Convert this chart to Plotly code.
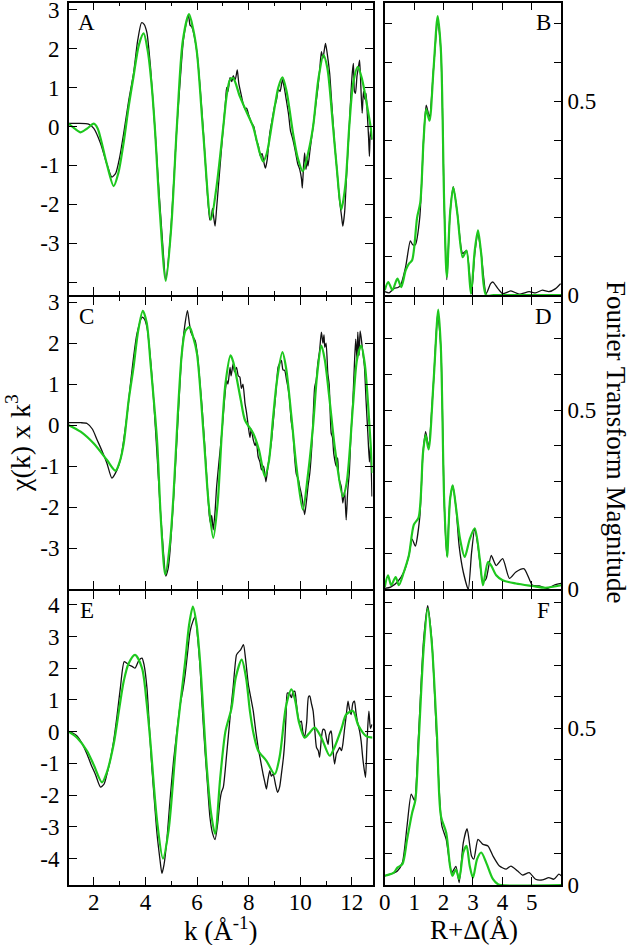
import plotly.graph_objects as go

W, H = 633, 945

# === k-space data (chi(k) * k^3), black = experiment, green = fit ===
k_a_data = [1.03, 1.4, 1.8, 2.0, 2.26, 2.5, 2.7, 2.85, 3.0, 3.16, 3.35, 3.54, 3.7, 3.85, 3.95, 4.06, 4.2, 4.38, 4.52, 4.64,
            4.79, 4.96, 5.1, 5.22, 5.35, 5.47, 5.6, 5.67, 5.73, 5.8, 5.9, 6.0, 6.12, 6.25, 6.35, 6.44, 6.5, 6.55, 6.6, 6.65,
            6.7, 6.76, 6.83, 6.92, 7.02, 7.1, 7.15, 7.2, 7.28, 7.35, 7.4, 7.48, 7.56, 7.62, 7.7, 7.78, 7.86, 7.92, 8.0, 8.05,
            8.1, 8.2, 8.3, 8.38, 8.45, 8.52, 8.6, 8.65, 8.72, 8.82, 8.92, 9.0, 9.08, 9.15, 9.22, 9.31, 9.38, 9.46, 9.55, 9.62,
            9.72, 9.8, 9.9, 9.98, 10.05, 10.08, 10.13, 10.17, 10.22, 10.27, 10.3, 10.38, 10.5, 10.6, 10.69, 10.76, 10.82, 10.88, 10.93, 10.98,
            11.05, 11.14, 11.22, 11.33, 11.42, 11.52, 11.6, 11.65, 11.72, 11.78, 11.85, 11.9, 11.97, 12.02, 12.06, 12.1, 12.14, 12.2, 12.25, 12.3,
            12.35, 12.4, 12.45, 12.5, 12.55, 12.6, 12.65, 12.68, 12.72, 12.78]
chi_a_data = [0.08, 0.08, 0.06, -0.05, -0.43, -0.95, -1.3, -1.2, -0.8, -0.17, 0.65, 1.36, 2.2, 2.66, 2.62, 2.4, 1.5, -0.17, -1.6, -2.73,
              -3.92, -2.9, -1.4, 0.0, 1.2, 2.2, 2.7, 2.85, 2.6, 2.55, 2.3, 1.88, 1.0, -0.17, -1.2, -2.05, -2.4, -2.35, -2.1, -2.35,
              -2.56, -2.1, -1.53, -0.8, 0.0, 0.6, 1.0, 0.9, 1.25, 1.15, 1.3, 1.2, 1.45, 1.1, 0.85, 0.6, 0.45, 0.47, 0.3, 0.2,
              0.1, 0.0, -0.35, -0.5, -0.75, -0.7, -0.95, -1.07, -0.85, -0.17, 0.2, 0.5, 0.68, 0.95, 0.9, 1.2, 1.0, 0.68, 0.3, -0.1,
              -0.35, -0.6, -0.95, -1.1, -1.35, -1.58, -1.0, -0.68, -1.1, -0.85, -1.02, -0.6, 0.0, 0.55, 1.02, 1.5, 1.92, 1.75, 1.95, 2.13,
              1.85, 1.36, 0.6, -0.43, -1.1, -1.88, -2.3, -2.56, -2.2, -1.45, -0.6, 0.0, 0.9, 1.4, 1.62, 0.9, 0.85, 1.3, 1.5, 1.7,
              1.0, 0.34, 0.9, 0.7, 0.85, 0.3, -0.3, -0.77, -0.1, -0.34]
k_a_fit = [1.03, 1.25, 1.49, 1.75, 2.0, 2.15, 2.3, 2.5, 2.77, 2.95, 3.16, 3.35, 3.54, 3.75, 3.93, 4.1, 4.25, 4.38, 4.55, 4.79,
           5.0, 5.22, 5.45, 5.69, 5.85, 6.0, 6.25, 6.54, 6.76, 7.02, 7.15, 7.28, 7.4, 7.66, 7.9, 8.17, 8.4, 8.56, 8.7, 8.95,
           9.15, 9.31, 9.47, 9.72, 9.9, 10.1, 10.3, 10.5, 10.7, 10.9, 11.05, 11.27, 11.42, 11.59, 11.75, 11.9, 12.05, 12.23, 12.4, 12.55,
           12.7, 12.8]
chi_a_fit = [0.07, -0.05, -0.15, -0.05, 0.07, -0.05, -0.4, -0.95, -1.53, -1.2, -0.4, 0.5, 1.28, 2.1, 2.39, 1.9, 1.0, -0.17, -2.1, -3.96,
             -2.6, 0.0, 2.2, 2.88, 2.5, 1.88, -0.25, -2.39, -1.53, 0.0, 0.8, 1.2, 1.24, 0.77, 0.4, 0.0, -0.6, -0.9, -0.7, 0.26,
             1.0, 1.26, 0.9, -0.17, -0.8, -1.15, -0.7, 0.0, 1.2, 1.83, 1.5, 0.0, -1.1, -2.13, -1.5, 0.0, 1.1, 1.53, 1.2, 0.68,
             0.1, -0.34]

k_c_data = [1.03, 1.5, 1.74, 1.95, 2.13, 2.3, 2.51, 2.7, 2.9, 3.05, 3.16, 3.3, 3.42, 3.55, 3.67, 3.87, 3.95, 4.06, 4.2, 4.32,
            4.45, 4.57, 4.7, 4.79, 4.88, 4.96, 5.1, 5.22, 5.32, 5.41, 5.52, 5.63, 5.7, 5.76, 5.85, 5.93, 6.02, 6.12, 6.2, 6.31,
            6.4, 6.48, 6.53, 6.57, 6.63, 6.7, 6.76, 6.85, 6.96, 7.05, 7.15, 7.2, 7.28, 7.32, 7.4, 7.45, 7.53, 7.6, 7.66, 7.72,
            7.78, 7.86, 7.92, 7.99, 8.05, 8.1, 8.18, 8.25, 8.3, 8.37, 8.44, 8.5, 8.58, 8.67, 8.75, 8.82, 8.89, 9.0, 9.07, 9.14,
            9.2, 9.27, 9.33, 9.4, 9.47, 9.53, 9.59, 9.65, 9.72, 9.79, 9.85, 9.92, 9.98, 10.05, 10.1, 10.17, 10.25, 10.3, 10.37, 10.45,
            10.5, 10.56, 10.62, 10.68, 10.75, 10.82, 10.88, 10.92, 10.95, 11.0, 11.07, 11.12, 11.2, 11.25, 11.3, 11.4, 11.45, 11.5, 11.59, 11.65,
            11.72, 11.78, 11.84, 11.9, 11.96, 12.04, 12.1, 12.15, 12.2, 12.23, 12.28, 12.32, 12.36, 12.42, 12.49, 12.55, 12.62, 12.68, 12.72, 12.78]
chi_c_data = [0.06, 0.06, 0.04, -0.1, -0.36, -0.6, -0.93, -1.29, -1.09, -0.8, -0.36, 0.3, 1.0, 1.7, 2.22, 2.63, 2.6, 2.39, 1.6, 0.6,
              -0.7, -1.98, -3.1, -3.68, -3.5, -3.03, -1.7, -0.36, 0.8, 1.74, 2.4, 2.79, 2.5, 2.27, 2.15, 2.06, 1.7, 1.0, 0.4, -0.6,
              -1.5, -2.22, -2.4, -2.2, -2.55, -2.1, -1.5, -0.9, -0.2, 0.5, 1.09, 1.0, 1.41, 1.2, 1.5, 1.3, 1.41, 1.2, 1.17, 0.9,
              1.0, 0.53, 0.3, -0.04, -0.3, -0.1, -0.36, -0.5, -0.4, -0.77, -0.9, -1.09, -1.0, -1.38, -1.0, -0.7, -0.36, 0.4, 0.9, 1.41,
              1.5, 1.58, 1.35, 1.33, 1.1, 0.9, 0.6, 0.1, -0.2, -0.85, -1.2, -1.3, -1.5, -1.7, -1.9, -2.18, -1.8, -1.5, -1.17, -0.5,
              0.2, 0.93, 1.1, 1.5, 1.82, 2.27, 2.0, 2.2, 1.9, 2.0, 1.25, 1.0, -0.2, -0.3, -0.7, -1.01, -0.8, -1.3, -1.5, -1.9,
              -1.6, -2.31, -1.6, -1.17, -0.3, 0.6, 1.5, 2.1, 1.6, 2.27, 1.7, 2.3, 2.14, 1.8, 1.41, 0.6, -0.2, -0.9, -0.5, -1.74]
k_c_fit = [1.03, 1.49, 2.0, 2.51, 2.84, 3.0, 3.16, 3.35, 3.54, 3.72, 3.9, 4.05, 4.2, 4.45, 4.6, 4.77, 4.95, 5.09, 5.25, 5.41,
           5.55, 5.71, 5.85, 6.0, 6.27, 6.45, 6.63, 6.8, 6.96, 7.1, 7.3, 7.4, 7.53, 7.7, 7.86, 8.18, 8.4, 8.63, 8.78, 8.95,
           9.1, 9.31, 9.45, 9.66, 9.85, 10.1, 10.3, 10.5, 10.65, 10.82, 10.95, 11.14, 11.35, 11.65, 11.8, 12.04, 12.2, 12.36, 12.5, 12.62,
           12.8]
chi_c_fit = [0.0, -0.16, -0.45, -0.85, -1.11, -0.9, -0.45, 0.6, 1.41, 2.3, 2.79, 2.5, 1.5, -0.36, -2.3, -3.64, -2.9, -1.7, 0.2, 1.74,
             2.3, 2.39, 2.15, 1.74, -0.36, -1.9, -2.75, -1.9, -0.2, 1.0, 1.7, 1.55, 1.17, 0.6, 0.12, -0.2, -0.6, -1.25, -0.9, 0.2,
             1.1, 1.78, 1.4, 0.2, -1.0, -2.06, -1.2, 0.0, 1.2, 1.94, 1.6, 0.6, -0.6, -1.74, -1.4, 0.45, 1.6, 1.94, 1.5, 0.6,
             -1.17]

k_e_data = [1.03, 1.2, 1.36, 1.55, 1.74, 1.9, 2.06, 2.26, 2.4, 2.51, 2.65, 2.77, 2.9, 3.03, 3.18, 3.35, 3.5, 3.6, 3.75, 3.87,
            3.95, 4.06, 4.15, 4.25, 4.35, 4.45, 4.56, 4.64, 4.72, 4.83, 4.95, 5.09, 5.22, 5.35, 5.45, 5.54, 5.65, 5.73, 5.85, 5.93,
            6.02, 6.12, 6.2, 6.31, 6.4, 6.5, 6.6, 6.7, 6.8, 6.89, 6.95, 7.02, 7.15, 7.28, 7.4, 7.53, 7.6, 7.69, 7.8, 7.88,
            7.99, 8.1, 8.18, 8.28, 8.37, 8.46, 8.56, 8.63, 8.69, 8.75, 8.82, 8.88, 8.95, 9.05, 9.12, 9.2, 9.27, 9.35, 9.4, 9.45,
            9.5, 9.58, 9.66, 9.72, 9.79, 9.85, 9.92, 9.98, 10.04, 10.1, 10.17, 10.25, 10.32, 10.37, 10.43, 10.5, 10.56, 10.63, 10.7, 10.75,
            10.82, 10.88, 10.95, 11.01, 11.08, 11.12, 11.2, 11.26, 11.33, 11.4, 11.46, 11.53, 11.6, 11.65, 11.72, 11.78, 11.85, 11.91, 11.97, 12.04,
            12.1, 12.16, 12.22, 12.3, 12.36, 12.42, 12.48, 12.53, 12.58, 12.62, 12.66, 12.72, 12.78]
chi_e_data = [0.0, -0.05, -0.14, -0.38, -0.71, -1.05, -1.34, -1.75, -1.65, -1.34, -0.85, -0.29, 0.5, 1.38, 2.21, 2.11, 2.05, 2.0, 2.25, 2.32,
              2.1, 1.38, 0.2, -1.13, -2.2, -3.22, -4.0, -4.47, -4.2, -3.43, -2.2, -0.92, 0.0, 0.86, 1.3, 1.8, 2.6, 3.15, 3.5, 3.62,
              3.0, 2.0, 0.8, -0.6, -1.6, -2.69, -3.2, -3.4, -2.9, -2.17, -1.9, -1.75, -0.7, 0.44, 1.4, 2.42, 2.5, 2.58, 2.74, 2.3,
              1.48, 1.0, 0.65, 0.0, -0.5, -0.9, -1.34, -1.6, -1.81, -1.5, -1.23, -1.4, -1.34, -1.7, -1.91, -1.75, -1.34, -0.8, -0.29, 0.5,
              1.22, 1.2, 1.07, 1.25, 1.27, 0.9, 0.44, 0.3, 0.33, 0.0, -0.19, 0.3, 1.1, 1.12, 0.9, 0.65, 0.1, -0.5, -0.6, -0.81,
              -0.2, 0.07, 0.05, -0.19, -0.4, -0.1, 0.02, -0.5, -1.02, -0.7, -0.6, -0.5, -0.6, -0.4, 0.1, 0.5, 0.96, 0.7, 0.54, 0.9,
              0.96, 0.6, 0.3, 0.02, -0.3, -0.81, -1.2, -1.44, -0.5, 0.2, 0.65, 0.1, 0.23]
k_e_fit = [1.03, 1.36, 1.74, 2.0, 2.32, 2.5, 2.77, 3.0, 3.16, 3.35, 3.6, 3.87, 4.05, 4.19, 4.45, 4.68, 4.9, 5.22, 5.54, 5.7,
           5.84, 5.98, 6.12, 6.38, 6.55, 6.7, 6.9, 7.1, 7.34, 7.5, 7.73, 7.9, 8.05, 8.2, 8.37, 8.69, 9.01, 9.2, 9.45, 9.66,
           9.8, 9.95, 10.17, 10.35, 10.56, 10.82, 11.14, 11.35, 11.6, 11.78, 12.04, 12.25, 12.55, 12.8]
chi_e_fit = [0.0, -0.2, -0.61, -1.05, -1.6, -1.3, -0.4, 0.8, 1.59, 2.15, 2.42, 2.0, 0.9, -0.29, -2.8, -4.0, -3.1, -0.1, 2.2, 3.4,
             3.94, 3.4, 2.2, -1.13, -2.6, -3.22, -1.45, 0.0, 0.75, 1.7, 2.27, 1.7, 0.65, -0.1, -0.6, -0.92, -1.34, -0.8, 0.8, 1.33,
             1.0, 0.3, -0.19, -0.05, 0.13, -0.19, -0.76, -0.45, 0.1, 0.54, 0.65, 0.2, -0.14, -0.19]

# === R-space data (Fourier transform magnitude) ===
r_b_data = [0.0, 0.15, 0.31, 0.45, 0.54, 0.71, 0.87, 0.95, 1.04, 1.19, 1.32, 1.41, 1.52, 1.66, 1.8, 1.91, 2.02, 2.11, 2.22, 2.33,
            2.47, 2.6, 2.65, 2.78, 2.95, 3.06, 3.17, 3.28, 3.45, 3.6, 3.68, 3.85, 4.01, 4.29, 4.57, 4.91, 5.13, 5.36, 5.58, 5.81,
            5.98]
ft_b_data = [0.009, 0.006, 0.017, 0.02, 0.026, 0.073, 0.14, 0.13, 0.13, 0.2, 0.4, 0.49, 0.46, 0.585, 0.71, 0.63, 0.24, 0.04, 0.21, 0.28,
             0.21, 0.12, 0.107, 0.115, 0.004, 0.107, 0.158, 0.107, 0.004, 0.03, 0.034, 0.017, 0.004, 0.011, 0.003, 0.009, 0.006, 0.013, 0.009, 0.017,
             0.03]
r_b_fit = [0.0, 0.12, 0.26, 0.43, 0.56, 0.71, 0.82, 0.93, 1.1, 1.21, 1.32, 1.41, 1.52, 1.66, 1.8, 1.91, 2.02, 2.11, 2.22, 2.33,
           2.47, 2.65, 2.78, 2.93, 3.06, 3.17, 3.28, 3.45, 3.7, 6.0]
ft_b_fit = [0.013, 0.034, 0.013, 0.043, 0.021, 0.064, 0.081, 0.09, 0.2, 0.24, 0.4, 0.48, 0.45, 0.585, 0.72, 0.63, 0.24, 0.047, 0.21, 0.278,
            0.21, 0.098, 0.115, 0.004, 0.115, 0.167, 0.107, 0.0, 0.0, 0.0]

r_d_data = [0.0, 0.2, 0.43, 0.65, 0.82, 0.93, 1.04, 1.19, 1.3, 1.39, 1.49, 1.66, 1.8, 1.91, 2.02, 2.11, 2.22, 2.31, 2.42, 2.53,
            2.67, 2.84, 2.95, 3.06, 3.17, 3.34, 3.45, 3.62, 3.79, 4.01, 4.24, 4.46, 4.74, 5.02, 5.25, 5.53, 5.75, 6.0]
ft_d_data = [0.002, 0.006, 0.02, 0.048, 0.094, 0.14, 0.12, 0.2, 0.38, 0.44, 0.4, 0.58, 0.77, 0.67, 0.25, 0.094, 0.25, 0.29, 0.23, 0.12,
             0.048, 0.0, 0.1, 0.17, 0.12, 0.02, 0.03, 0.094, 0.066, 0.085, 0.03, 0.048, 0.057, 0.011, 0.009, 0.002, 0.011, 0.016]
r_d_fit = [0.0, 0.11, 0.22, 0.37, 0.48, 0.65, 0.82, 0.99, 1.15, 1.3, 1.39, 1.49, 1.66, 1.82, 1.91, 2.02, 2.12, 2.22, 2.31, 2.42,
           2.56, 2.72, 2.89, 3.06, 3.23, 3.34, 3.51, 3.62, 3.79, 4.01, 4.46, 5.02, 5.47, 6.0]
ft_d_fit = [0.006, 0.039, 0.011, 0.034, 0.011, 0.048, 0.094, 0.18, 0.2, 0.38, 0.43, 0.39, 0.58, 0.78, 0.67, 0.25, 0.09, 0.25, 0.29, 0.23,
            0.14, 0.09, 0.14, 0.17, 0.085, 0.011, 0.076, 0.066, 0.039, 0.025, 0.016, 0.009, 0.004, 0.011]

r_f_data = [0.0, 0.2, 0.43, 0.6, 0.76, 0.9, 1.01, 1.15, 1.32, 1.46, 1.6, 1.77, 1.94, 2.09, 2.28, 2.42, 2.53, 2.67, 2.8, 2.95,
            3.03, 3.17, 3.34, 3.51, 3.68, 3.9, 4.13, 4.29, 4.52, 4.69, 4.91, 5.13, 5.36, 5.58, 5.75, 5.92, 6.0]
ft_f_data = [0.03, 0.035, 0.045, 0.072, 0.19, 0.29, 0.27, 0.48, 0.78, 0.89, 0.78, 0.46, 0.19, 0.146, 0.04, 0.06, 0.008, 0.135, 0.18, 0.093,
             0.083, 0.146, 0.13, 0.125, 0.093, 0.061, 0.051, 0.061, 0.045, 0.032, 0.04, 0.019, 0.017, 0.024, 0.019, 0.035, 0.03]
r_f_fit = [0.0, 0.31, 0.43, 0.6, 0.76, 0.93, 1.04, 1.15, 1.32, 1.46, 1.6, 1.77, 1.91, 2.09, 2.22, 2.3, 2.42, 2.53, 2.67, 2.78,
           2.89, 3.0, 3.14, 3.28, 3.45, 3.68, 3.85, 3.96, 6.0]
ft_f_fit = [0.03, 0.04, 0.056, 0.067, 0.146, 0.23, 0.27, 0.45, 0.75, 0.88, 0.77, 0.49, 0.22, 0.167, 0.061, 0.03, 0.05, 0.019, 0.104, 0.125,
            0.061, 0.024, 0.083, 0.104, 0.072, 0.019, 0.003, 0.0, 0.0]

k_ticks = [2, 4, 6, 8, 10, 12]
r_ticks = [0, 1, 2, 3, 4, 5]
ft_ticks = [0, 0.1, 0.2, 0.3, 0.4, 0.5, 0.6, 0.7, 0.8, 0.9]
ft_ticktext = ["0", "", "", "", "", "0.5", "", "", "", ""]

BLACK = "#111111"
GREEN = "#1ec81e"
FONT = "Liberation Serif, Times New Roman, DejaVu Serif, serif"


def px(x, y):
    return x / W, 1 - y / H


# panel edges in pixels (plotly draws the frame half a line width outside these)
cols = [(68.75, 372.5), (384.75, 561.2)]
rows = [(2.5, 295.2), (296.8, 589.2), (590.8, 885.2)]

panels = [
    (k_a_data, chi_a_data, k_a_fit, chi_a_fit),
    (r_b_data, ft_b_data, r_b_fit, ft_b_fit),
    (k_c_data, chi_c_data, k_c_fit, chi_c_fit),
    (r_d_data, ft_d_data, r_d_fit, ft_d_fit),
    (k_e_data, chi_e_data, k_e_fit, chi_e_fit),
    (r_f_data, ft_f_data, r_f_fit, ft_f_fit),
]
y_ranges = [[-4.33, 3.18], [0, 0.755], [-4.0, 3.13], [0, 0.816], [-4.84, 4.44], [0, 0.937]]
chi_ticks = [[-4, -3, -2, -1, 0, 1, 2, 3], None, [-4, -3, -2, -1, 0, 1, 2, 3], None,
             [-4, -3, -2, -1, 0, 1, 2, 3, 4], None]
chi_ticktext = [["", "-3", "-2", "-1", "0", "1", "2", "3"], None, ["", "-3", "-2", "-1", "0", "1", "2", "3"], None,
                ["-4", "-3", "-2", "-1", "0", "1", "2", "3", "4"], None]
letters = ["A", "B", "C", "D", "E", "F"]

fig = go.Figure()
axis_common = dict(showline=True, linecolor="black", linewidth=1.5, mirror="ticks", ticks="inside",
                   tickcolor="black", tickwidth=1.3, showgrid=False, zeroline=False, automargin=False,
                   ticklabeloverflow="allow",
                   tickfont=dict(family=FONT, size=23, color="black"))

for i, (xd, yd, xf, yf) in enumerate(panels):
    n = i + 1
    r, c = divmod(i, 2)
    xs = "x" if n == 1 else f"x{n}"
    ys = "y" if n == 1 else f"y{n}"
    fig.add_trace(go.Scatter(x=xd, y=yd, mode="lines", xaxis=xs, yaxis=ys, showlegend=False,
                             line=dict(color=BLACK, width=1.3, shape="spline", smoothing=0.6)))
    fig.add_trace(go.Scatter(x=xf, y=yf, mode="lines", xaxis=xs, yaxis=ys, showlegend=False,
                             line=dict(color=GREEN, width=2.2, shape="spline", smoothing=0.8)))

    x0, x1 = cols[c]
    t, b = rows[r]
    xa = dict(axis_common, domain=[x0 / W, x1 / W], anchor=ys, ticklen=8,
              showticklabels=(r == 2), ticklabelstandoff=-5)
    if c == 0:
        xa.update(range=[1.03, 12.8], tickvals=k_ticks, ticktext=[str(v) for v in k_ticks],
                  minor=dict(tickvals=[3, 5, 7, 9, 11], ticklen=4, tickcolor="black", tickwidth=1.3, ticks="inside"))
    else:
        xa.update(range=[0, 6], tickvals=r_ticks, ticktext=[str(v) for v in r_ticks])
    ya = dict(axis_common, domain=[1 - b / H, 1 - t / H], anchor=xs, range=y_ranges[i], ticklen=8)
    if c == 0:
        ya.update(tickvals=chi_ticks[i], ticktext=chi_ticktext[i], ticklabelstandoff=3)
    else:
        ya.update(tickvals=ft_ticks, ticktext=ft_ticktext, side="right", ticklen=7, ticklabelstandoff=0)
    fig.layout["xaxis" if n == 1 else f"xaxis{n}"] = xa
    fig.layout["yaxis" if n == 1 else f"yaxis{n}"] = ya

    lx = x0 + 18 if c == 0 else x1 - 18
    ly = t + 20
    ax, ay = px(lx, ly)
    fig.add_annotation(x=ax, y=ay, xref="paper", yref="paper", text=letters[i], showarrow=False,
                       xanchor="center", yanchor="middle",
                       font=dict(family=FONT, size=23, color="black"))

# axis titles
for text, (x, y), ang, size in [
    ("χ(k) x k<sup>3</sup>", (19, 443), -90, 28),
    ("Fourier Transform Magnitude", (616, 442), 90, 27),
    ("k (Å<sup>-1</sup>)", (221, 929), 0, 27),
    ("R+Δ(Å)", (474, 930), 0, 27),
]:
    ax, ay = px(x, y)
    fig.add_annotation(x=ax, y=ay, xref="paper", yref="paper", text=text, showarrow=False,
                       xanchor="center", yanchor="middle", textangle=ang,
                       font=dict(family=FONT, size=size, color="black"))

fig.update_layout(width=W, height=H, margin=dict(l=0, r=0, t=0, b=0), template="none",
                  plot_bgcolor="white", paper_bgcolor="white")
# the page body has a default 8px margin; drop it so the figure sits at the window corner
fig.write_html("out.html", config={"displayModeBar": False},
               post_script="document.body.style.margin='0px';")
